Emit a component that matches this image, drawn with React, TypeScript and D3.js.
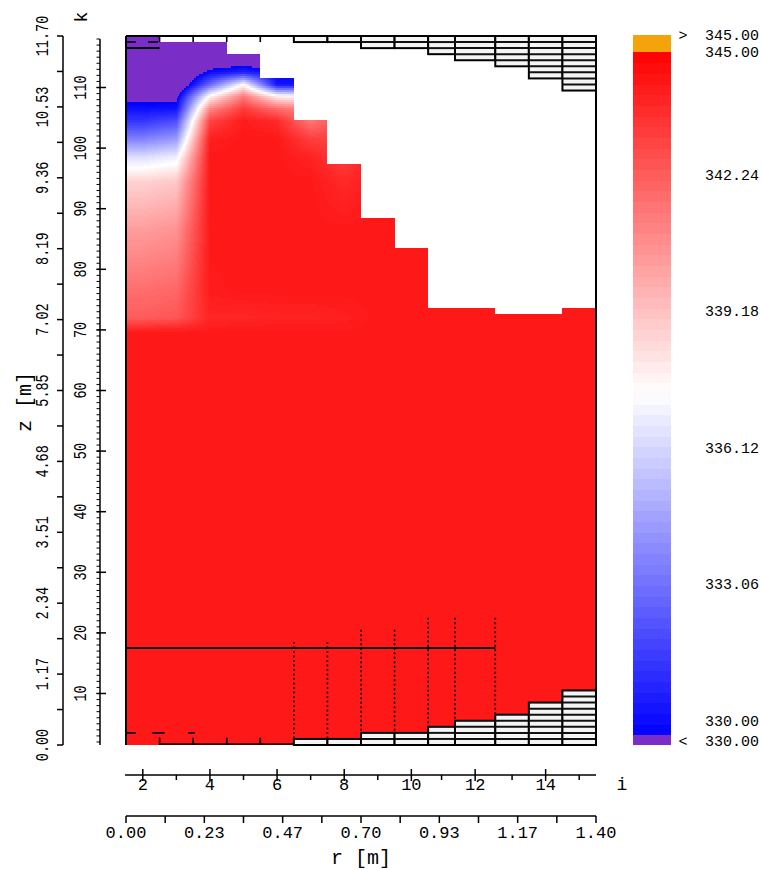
import React, { useMemo } from "react";
import * as d3 from "d3";

// ---------- data ----------
const rEdges = [0, 0.1, 0.2, 0.3, 0.4, 0.5, 0.6, 0.7, 0.8, 0.9, 0.98, 1.1, 1.2, 1.3, 1.4];
const iIndex = [2, 3, 4, 5, 6, 7, 8, 9, 10, 11, 12, 13, 14, 15];
// free surface height (m) per column
const surfaceZ = [11.7, 11.6, 11.6, 11.4, 11.0, 10.3, 9.6, 8.7, 8.2, 7.2, 7.2, 7.1, 7.1, 7.2];
// solid (hatched) cell rows per column
const topSolidRows = [0, 0, 0, 0, 0, 1, 1, 2, 2, 3, 4, 5, 7, 9];
const bottomSolidRows = [0, 0, 0, 0, 0, 1, 1, 2, 2, 3, 4, 5, 7, 9];
const cellDz = 0.1;
// temperature knots: z levels (m) and T per column (K)
const zLevels = [11.65, 11.35, 11.1, 10.9, 10.7, 10.5, 10.3, 10.0, 9.7, 9.3, 8.5, 7.5, 7.05, 6.9, 6.8, 0];
const T_i2 = [328, 328, 328, 328, 329.5, 330.4, 331.5, 333.8, 336.5, 338.8, 340.4, 341.8, 342.3, 343.6, 344.3, 344.3];
const T_i3 = [328, 328, 328, 328, 329.5, 330.5, 332.2, 334.5, 337.0, 339.1, 340.7, 342.0, 342.5, 343.7, 344.3, 344.3];
const T_i4 = [328, 328.5, 330.3, 333.0, 337.8, 341.0, 343.0, 344.1, 344.3, 344.3, 344.3, 344.2, 343.9, 344.1, 344.3, 344.3];
const T_i5 = [328, 328.5, 331.0, 337.5, 341.5, 343.3, 344.2, 344.3, 344.3, 344.3, 344.3, 344.3, 343.9, 344.2, 344.3, 344.3];
const T_i6 = [328, 328, 330.2, 330.5, 338.0, 341.8, 343.8, 344.3, 344.3, 344.3, 344.3, 344.3, 344.0, 344.2, 344.3, 344.3];
const T_i7 = [328, 328, 330.2, 330.3, 337.5, 341.0, 341.5, 343.2, 344.0, 344.3, 344.3, 344.3, 344.0, 344.2, 344.3, 344.3];
const T_i8 = [343, 343, 343, 343, 343, 343, 343, 343, 343.2, 343.8, 344.3, 344.3, 344.1, 344.2, 344.3, 344.3];
const T_i9 = [344.3, 344.3, 344.3, 344.3, 344.3, 344.3, 344.3, 344.3, 344.3, 344.3, 344.3, 344.3, 344.3, 344.3, 344.3, 344.3];
const T_i10 = T_i9, T_i11 = T_i9, T_i12 = T_i9, T_i13 = T_i9, T_i14 = T_i9, T_i15 = T_i9;
const tempByColumn = [T_i2, T_i3, T_i4, T_i5, T_i6, T_i7, T_i8, T_i9, T_i10, T_i11, T_i12, T_i13, T_i14, T_i15];
const baseT = 344.3;

// lines drawn in the field
const gridLineZ = 1.6;
const gridLineR = [0, 1.1];
const dottedR = [0.5, 0.6, 0.7, 0.8, 0.9, 0.98, 1.1];
const dottedTopZ = [1.7, 1.7, 1.9, 1.9, 2.1, 2.1, 2.1];

// axes
const zTickValues = [0, 0.585, 1.17, 1.755, 2.34, 2.925, 3.51, 4.095, 4.68, 5.265, 5.85, 6.435, 7.02, 7.605, 8.19, 8.775, 9.36, 9.945, 10.53, 11.115, 11.7];
const zLabelValues = [0, 1.17, 2.34, 3.51, 4.68, 5.85, 7.02, 8.19, 9.36, 10.53, 11.7];
const zLabels = ["0.00", "1.17", "2.34", "3.51", "4.68", "5.85", "7.02", "8.19", "9.36", "10.53", "11.70"];
const kMajor = [10, 20, 30, 40, 50, 60, 70, 80, 90, 100, 110];
const kRange = [2, 118];
const rTickValues = [0, 0.11667, 0.23333, 0.35, 0.46667, 0.58333, 0.7, 0.81667, 0.93333, 1.05, 1.16667, 1.28333, 1.4];
const rLabelValues = [0, 0.23333, 0.46667, 0.7, 0.93333, 1.16667, 1.4];
const rLabels = ["0.00", "0.23", "0.47", "0.70", "0.93", "1.17", "1.40"];
const cbValues = [345, 342.24, 339.18, 336.12, 333.06, 330];
const cbLabels = ["345.00", "342.24", "339.18", "336.12", "333.06", "330.00"];
const tMin = 330, tMax = 345;

const PURPLE = "#7b2dc8";
const ORANGE = "#f5a30a";
const MONO = "'Liberation Mono', 'DejaVu Sans Mono', monospace";

function colorOf(T: number): string {
  if (T < tMin) return PURPLE;
  if (T > tMax) return ORANGE;
  const t = (T - tMin) / (tMax - tMin);
  if (t < 0.5) {
    const v = Math.round(510 * t);
    return `rgb(${v},${v},255)`;
  }
  const v = Math.round(510 * (1 - t));
  return `rgb(255,${v},${v})`;
}

const colCenters = rEdges.slice(0, -1).map((e, i) => (e + rEdges[i + 1]) / 2);

function sampleT(r: number, z: number): number {
  const n = colCenters.length;
  let j0: number, j1: number, fx: number;
  if (r <= colCenters[0]) { j0 = j1 = 0; fx = 0; }
  else if (r >= colCenters[n - 1]) { j0 = j1 = n - 1; fx = 0; }
  else {
    j0 = d3.bisectRight(colCenters, r) - 1;
    j1 = j0 + 1;
    fx = (r - colCenters[j0]) / (colCenters[j1] - colCenters[j0]);
  }
  const L = zLevels.length;
  let l0: number, l1: number, fz: number;
  if (z >= zLevels[0]) { l0 = l1 = 0; fz = 0; }
  else if (z <= zLevels[L - 1]) { l0 = l1 = L - 1; fz = 0; }
  else {
    l0 = 0;
    while (!(zLevels[l0] >= z && z > zLevels[l0 + 1])) l0++;
    l1 = l0 + 1;
    fz = (zLevels[l0] - z) / (zLevels[l0] - zLevels[l1]);
  }
  const a = tempByColumn[j0][l0] * (1 - fz) + tempByColumn[j0][l1] * fz;
  const b = tempByColumn[j1][l0] * (1 - fz) + tempByColumn[j1][l1] * fz;
  return a * (1 - fx) + b * fx;
}

export default function App() {
  const X0 = 126, X1 = 596, Y0 = 36, Y1 = 745;
  const rScale = d3.scaleLinear().domain([0, 1.4]).range([X0, X1]);
  const zScale = d3.scaleLinear().domain([0, 11.7]).range([Y1, Y0]);
  const kScale = d3.scaleLinear().domain([1.5, 118.5]).range([Y1, Y0]);
  const cbScale = d3.scaleLinear().domain([tMin, tMax]).range([735, 52]);
  const cbLabelScale = d3.scaleLinear().domain([tMin, tMax]).range([722, 53.3]);

  const fieldRects = useMemo(() => {
    const out: { x: number; y: number; w: number; h: number; c: string }[] = [];
    const step = 2;
    for (let yy = Y0; yy < 348; yy += step) {
      const z = zScale.invert(yy + step / 2);
      let runStart = X0;
      let runColor = "";
      for (let px = X0; px <= X1; px++) {
        let c = "";
        if (px < X1) {
          const r = rScale.invert(px + 0.5);
          let col = d3.bisectRight(rEdges, r) - 1;
          col = Math.max(0, Math.min(iIndex.length - 1, col));
          if (z > surfaceZ[col]) c = "#ffffff";
          else c = colorOf(Math.round(sampleT(r, z) * 10) / 10);
        }
        if (c !== runColor) {
          if (runColor) out.push({ x: runStart, y: yy, w: px - runStart, h: step, c: runColor });
          runStart = px;
          runColor = c;
        }
      }
    }
    return out;
  }, []);

  const bands = useMemo(() => {
    const nb = 64;
    return d3.range(nb).map((b) => {
      const a = tMin + ((tMax - tMin) * b) / nb;
      const e = tMin + ((tMax - tMin) * (b + 1)) / nb;
      return { y: cbScale(e), h: cbScale(a) - cbScale(e), c: colorOf((a + e) / 2) };
    });
  }, []);

  const hatch = (rows: number[], fromTop: boolean) =>
    rows.map((n, c) => {
      if (n <= 0) return null;
      const x0 = rScale(rEdges[c]);
      const x1 = rScale(rEdges[c + 1]);
      const zA = fromTop ? 11.7 : 0;
      const zB = fromTop ? 11.7 - n * cellDz : n * cellDz;
      const yTop = Math.min(zScale(zA), zScale(zB));
      const yBot = Math.max(zScale(zA), zScale(zB));
      return (
        <g key={(fromTop ? "t" : "b") + c}>
          <rect x={x0} y={yTop} width={x1 - x0} height={yBot - yTop} fill="#f4f4f4" stroke="#000" strokeWidth={2} />
          {d3.range(1, n).map((m) => {
            const y = zScale(fromTop ? 11.7 - m * cellDz : m * cellDz);
            return <line key={m} x1={x0} x2={x1} y1={y} y2={y} stroke="#111" strokeWidth={2} />;
          })}
        </g>
      );
    });

  const iCenters = colCenters.map((c) => rScale(c));

  return (
    <svg width={762} height={870} style={{ position: "absolute", left: 0, top: 0, display: "block", background: "#fff" }}>
      {/* field */}
      <rect x={X0} y={Y0} width={X1 - X0} height={Y1 - Y0} fill={colorOf(baseT)} />
      <g shapeRendering="crispEdges">
        {fieldRects.map((d, i) => (
          <rect key={i} x={d.x} y={d.y} width={d.w} height={d.h} fill={d.c} />
        ))}
      </g>

      {/* dotted verticals */}
      {dottedR.map((r, i) => (
        <line key={"d" + i} x1={rScale(r)} x2={rScale(r)} y1={zScale(dottedTopZ[i])} y2={Y1} stroke="#000" strokeWidth={1.6} strokeDasharray="2,2.5" />
      ))}
      {/* horizontal line */}
      <line x1={rScale(gridLineR[0])} x2={rScale(gridLineR[1])} y1={zScale(gridLineZ)} y2={zScale(gridLineZ)} stroke="#000" strokeWidth={2} />

      {/* hatched solids */}
      {hatch(topSolidRows, true)}
      {hatch(bottomSolidRows, false)}

      {/* top-left cell marks */}
      <line x1={rScale(0)} x2={rScale(0.1)} y1={zScale(11.6)} y2={zScale(11.6)} stroke="#000" strokeWidth={1.6} strokeDasharray="10,12" />
      <line x1={rScale(0)} x2={rScale(0.1)} y1={zScale(11.5)} y2={zScale(11.5)} stroke="#000" strokeWidth={2} />
      {[0.1, 0.2, 0.3, 0.4].map((r) => (
        <line key={"tt" + r} x1={rScale(r)} x2={rScale(r)} y1={Y0} y2={zScale(11.6)} stroke="#000" strokeWidth={1.6} />
      ))}
      {/* bottom-left marks */}
      <line x1={rScale(0.1)} x2={rScale(0.5)} y1={Y1 - 1} y2={Y1 - 1} stroke="#000" strokeWidth={1.6} />
      {[0.1, 0.2, 0.3, 0.4].map((r) => (
        <line key={"bt" + r} x1={rScale(r)} x2={rScale(r)} y1={zScale(0.12)} y2={Y1} stroke="#000" strokeWidth={1.6} />
      ))}
      {[[0, 0.03], [0.077, 0.115], [0.185, 0.205]].map((p, i) => (
        <line key={"bd" + i} x1={rScale(p[0])} x2={rScale(p[1])} y1={zScale(0.2)} y2={zScale(0.2)} stroke="#000" strokeWidth={1.6} />
      ))}

      {/* frame */}
      <line x1={X0} x2={X0} y1={Y0} y2={Y1} stroke="#000" strokeWidth={2} />
      <line x1={X0} x2={X1} y1={Y0} y2={Y0} stroke="#000" strokeWidth={2} />
      <line x1={X1} x2={X1} y1={Y0} y2={Y1} stroke="#000" strokeWidth={2} />

      {/* z axis */}
      <line x1={63} x2={63} y1={Y0} y2={Y1} stroke="#000" strokeWidth={1.5} />
      {zTickValues.map((v, i) => (
        <line key={"zt" + i} x1={57} x2={63} y1={zScale(v)} y2={zScale(v)} stroke="#000" strokeWidth={1.5} />
      ))}
      {zLabelValues.map((v, i) => (
        <text key={"zl" + i} transform={`translate(44,${zScale(v)}) rotate(-90) scale(1,1.3)`} textAnchor="middle" dominantBaseline="central" fontFamily={MONO} fontSize={13.5} fill="#000">
          {zLabels[i]}
        </text>
      ))}
      <text transform={`translate(25,402) rotate(-90)`} textAnchor="middle" dominantBaseline="central" fontFamily={MONO} fontSize={20} fill="#000">
        z [m]
      </text>

      {/* k axis */}
      <line x1={100} x2={100} y1={kScale(kRange[1])} y2={Y1} stroke="#000" strokeWidth={1.5} />
      {d3.range(kRange[0], kRange[1] + 1).map((k) => (
        <line key={"km" + k} x1={96.5} x2={100} y1={kScale(k)} y2={kScale(k)} stroke="#000" strokeWidth={1} />
      ))}
      {kMajor.map((k) => (
        <line key={"kM" + k} x1={96.5} x2={106} y1={kScale(k)} y2={kScale(k)} stroke="#000" strokeWidth={1.5} />
      ))}
      {kMajor.map((k) => (
        <text key={"kl" + k} transform={`translate(82,${kScale(k)}) rotate(-90) scale(1,1.3)`} textAnchor="middle" dominantBaseline="central" fontFamily={MONO} fontSize={13.5} fill="#000">
          {k}
        </text>
      ))}
      <text transform={`translate(82,17) rotate(-90)`} textAnchor="middle" dominantBaseline="central" fontFamily={MONO} fontSize={18} fill="#000">
        k
      </text>

      {/* i axis */}
      <line x1={125} x2={X1} y1={775} y2={775} stroke="#000" strokeWidth={1.5} />
      {iIndex.map((iv, c) => (
        <line key={"it" + iv} x1={iCenters[c]} x2={iCenters[c]} y1={iv % 2 === 0 ? 769 : 775} y2={iv % 2 === 0 ? 781 : 780} stroke="#000" strokeWidth={1.5} />
      ))}
      {iIndex.map((iv, c) =>
        iv % 2 === 0 ? (
          <text key={"il" + iv} x={iCenters[c]} y={785} textAnchor="middle" dominantBaseline="central" fontFamily={MONO} fontSize={17} fill="#000">
            {iv}
          </text>
        ) : null
      )}
      <text x={622} y={785} textAnchor="middle" dominantBaseline="central" fontFamily={MONO} fontSize={18} fill="#000">
        i
      </text>

      {/* r axis */}
      <line x1={X0} x2={X1} y1={816} y2={816} stroke="#000" strokeWidth={1.5} />
      {rTickValues.map((v, i) => (
        <line key={"rt" + i} x1={rScale(v)} x2={rScale(v)} y1={816} y2={823} stroke="#000" strokeWidth={1.5} />
      ))}
      {rLabelValues.map((v, i) => (
        <text key={"rl" + i} x={rScale(v)} y={833} textAnchor="middle" dominantBaseline="central" fontFamily={MONO} fontSize={17} fill="#000">
          {rLabels[i]}
        </text>
      ))}
      <text x={(X0 + X1) / 2} y={858} textAnchor="middle" dominantBaseline="central" fontFamily={MONO} fontSize={20} fill="#000">
        r [m]
      </text>

      {/* colorbar */}
      <g shapeRendering="crispEdges">
        <rect x={633} y={35} width={38} height={cbScale(tMax) - 35} fill={ORANGE} />
        {bands.map((b, i) => (
          <rect key={"cb" + i} x={633} y={b.y} width={38} height={b.h + 0.5} fill={b.c} />
        ))}
        <rect x={633} y={cbScale(tMin)} width={38} height={745 - cbScale(tMin)} fill={PURPLE} />
      </g>
      <text x={683} y={cbLabelScale(tMax) - 16.5} textAnchor="middle" dominantBaseline="central" fontFamily={MONO} fontSize={15} fill="#000">
        {">"}
      </text>
      <text x={705} y={cbLabelScale(tMax) - 16.5} dominantBaseline="central" fontFamily={MONO} fontSize={15} fill="#000">
        {cbLabels[0]}
      </text>
      {cbValues.map((v, i) => (
        <text key={"cbl" + i} x={705} y={cbLabelScale(v)} dominantBaseline="central" fontFamily={MONO} fontSize={15} fill="#000">
          {cbLabels[i]}
        </text>
      ))}
      <text x={683} y={cbLabelScale(tMin) + 20} textAnchor="middle" dominantBaseline="central" fontFamily={MONO} fontSize={15} fill="#000">
        {"<"}
      </text>
      <text x={705} y={cbLabelScale(tMin) + 20} dominantBaseline="central" fontFamily={MONO} fontSize={15} fill="#000">
        {cbLabels[cbLabels.length - 1]}
      </text>
    </svg>
  );
}
